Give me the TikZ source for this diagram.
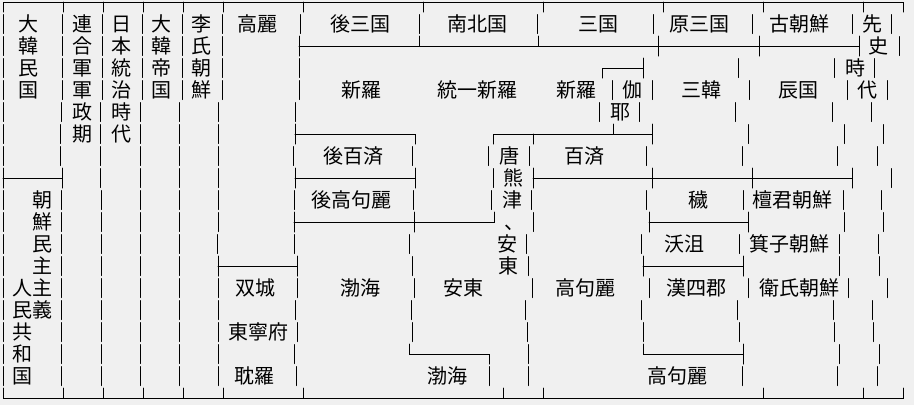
\documentclass[tikz,border=0pt]{standalone}
\usepackage{fontspec}
\setmainfont{Noto Sans CJK JP}
\usepackage{xcolor}
\definecolor{bg}{HTML}{F0F0F0}

% one "|" per row: row k is centred at y = 2+22k
\newcommand{\rowbars}[2]{%
  \foreach \x in {#2}{\draw (\x,{22*#1-7.5}) -- (\x,{22*#1+11.5});}}

\begin{document}
\begin{tikzpicture}[x=1pt,y=-1pt,line width=1pt,line cap=round,
  lbl/.style={inner sep=0pt,anchor=base,yshift=-7pt,font=\fontsize{20pt}{22pt}\selectfont}]
\useasboundingbox (0,0) rectangle (914,405);
\fill[bg] (0,0) rectangle (914,405);

% frame
\draw (3,12) -- (3,2) -- (903,2) -- (903,12);
\draw (3,388) -- (3,398) -- (903,398) -- (903,388);
\foreach \x in {63,103,143,183,223,303,423,543,663,763,863} \draw (\x,2) -- (\x,12);
\foreach \x in {63,103,143,183,223,303,503,543,763,863} \draw (\x,388) -- (\x,398);

% bars, row by row
\rowbars{1}{3,62,102,142,182,222,300,419,537,653,752,852,891}
\rowbars{2}{3,62,102,142,182,222,899}
\rowbars{3}{3,62,102,142,182,222,299,738,834,874}
\rowbars{4}{3,62,102,142,182,222,299,612,652,749,847,887}
\rowbars{5}{3,61,100,140,179,218,295,599,639,735,832,871}
\rowbars{6}{3,60,100,140,179,218,748,844,883}
\rowbars{7}{3,60,100,140,179,218,293,412,488,529,646,742,837,877}
\rowbars{8}{100,140,179,218,493,891}
\rowbars{9}{3,61,101,140,179,218,294,413,491,531,646,743,843,881}
\rowbars{10}{3,61,101,140,179,218,533,844,883}
\rowbars{11}{3,61,101,140,179,217,294,409,526,641,739,839,878}
\rowbars{12}{3,61,101,140,179,412,528,839,879}
\rowbars{13}{3,61,101,140,179,218,297,414,532,649,748,848,887}
\rowbars{14}{3,61,101,140,179,218,295,411,525,641,737,833,872}
\rowbars{15}{3,61,101,140,179,218,297,412,527,643,739,834,873}
\rowbars{16}{3,61,101,140,179,218,294,528,839,879}
\rowbars{17}{3,61,101,140,179,218,296,489,528,742,837,877}

% row 2
\draw (299,46) -- (859,46);
\foreach \x in {299,658,759,859} \draw (\x,36) -- (\x,56);
\foreach \x in {419,538} \draw (\x,36) -- (\x,46);
% row 3
\draw (602,78) -- (602,68) -- (643,68);
\draw (643,58) -- (643,78);
% row 6
\draw (295,134) -- (415,134) -- (415,144);
\draw (295,124) -- (295,144);
\draw (493,144) -- (493,134) -- (652,134);
\draw (533,134) -- (533,144);
\draw (613,124) -- (613,134);
\draw (652,124) -- (652,144);
% row 8
\draw (3,178) -- (62,178);
\draw (295,178) -- (415,178);
\draw (533,178) -- (852,178);
\foreach \x in {3,62,295,415,533,652,752,852} \draw (\x,168) -- (\x,188);
% row 10
\draw (294,222) -- (494,222) -- (494,212);
\draw (649,222) -- (748,222);
\foreach \x in {294,414,649,748} \draw (\x,212) -- (\x,232);
% row 12
\draw (218,266) -- (297,266);
\draw (643,266) -- (743,266);
\foreach \x in {218,297,643,743} \draw (\x,256) -- (\x,276);
% row 16
\draw (409,344) -- (409,354) -- (489,354) -- (489,364);
\draw (643,344) -- (643,354) -- (743,354);
\draw (743,344) -- (743,364);

% vertical names
\foreach \c [count=\i] in {大,韓,民,国} \node[lbl] (daehan-\i) at (28.5,{2+22*\i}) {\c};
\foreach \c [count=\i from 9] in {朝,鮮,民,主,主,義} \node[lbl] (joseon-\i) at (42.5,{2+22*\i}) {\c};
\foreach \c [count=\i from 13] in {人,民,共,和,国} \node[lbl] (inmin-\i) at (22.5,{2+22*\i}) {\c};
\foreach \c [count=\i] in {連,合,軍,軍,政,期} \node[lbl] (gunsei-\i) at (82,{2+22*\i}) {\c};
\foreach \c [count=\i] in {日,本,統,治,時,代} \node[lbl] (tochi-\i) at (121.5,{2+22*\i}) {\c};
\foreach \c [count=\i] in {大,韓,帝,国} \node[lbl] (teikoku-\i) at (161.5,{2+22*\i}) {\c};
\foreach \c [count=\i] in {李,氏,朝,鮮} \node[lbl] (rishi-\i) at (201.5,{2+22*\i}) {\c};
\node[lbl] (senshi-1) at (872,24) {先};
\node[lbl] (senshi-2) at (878,46) {史};
\node[lbl] (senshi-3) at (855,68) {時};
\node[lbl] (senshi-4) at (867,90) {代};
\node[lbl] (gaya-1) at (632,90) {伽};
\node[lbl] (gaya-2) at (620,112) {耶};
\node[lbl] (ungjin-1) at (509,156) {唐};
\node[lbl] (ungjin-2) at (513,178) {熊};
\node[lbl] (ungjin-3) at (512,200) {津};
\node[lbl] (ungjin-4) at (514,222) {、};
\node[lbl] (ungjin-5) at (507,244) {安};
\node[lbl] (ungjin-6) at (508,266) {東};

% horizontal names
\node[lbl] (koryo) at (257,24) {高麗};
\node[lbl] (husamguk) at (360,24) {後三国};
\node[lbl] (nambuk) at (477,24) {南北国};
\node[lbl] (samguk) at (598,24) {三国};
\node[lbl] (wonsamguk) at (699,24) {原三国};
\node[lbl] (gojoseon) at (799,24) {古朝鮮};
\node[lbl] (silla) at (361,90) {新羅};
\node[lbl] (tongil) at (477,90) {統一新羅};
\node[lbl] (silla2) at (576,90) {新羅};
\node[lbl] (samhan) at (701,90) {三韓};
\node[lbl] (jinguk) at (798,90) {辰国};
\node[lbl] (hubaekje) at (353,156) {後百済};
\node[lbl] (baekje) at (584,156) {百済};
\node[lbl] (hugoguryeo) at (351,200) {後高句麗};
\node[lbl] (ye) at (698,200) {穢};
\node[lbl] (dangun) at (792,200) {檀君朝鮮};
\node[lbl] (okjeo) at (684,244) {沃沮};
\node[lbl] (gija) at (789,244) {箕子朝鮮};
\node[lbl] (ssangseong) at (255,288) {双城};
\node[lbl] (balhae) at (360,288) {渤海};
\node[lbl] (andong) at (463,288) {安東};
\node[lbl] (goguryeo) at (585,288) {高句麗};
\node[lbl] (hansagun) at (696,288) {漢四郡};
\node[lbl] (wiman) at (799,288) {衛氏朝鮮};
\node[lbl] (dongnyeong) at (258,332) {東寧府};
\node[lbl] (tamna) at (254,376) {耽羅};
\node[lbl] (balhae2) at (447,376) {渤海};
\node[lbl] (goguryeo2) at (677,376) {高句麗};
\end{tikzpicture}
\end{document}
